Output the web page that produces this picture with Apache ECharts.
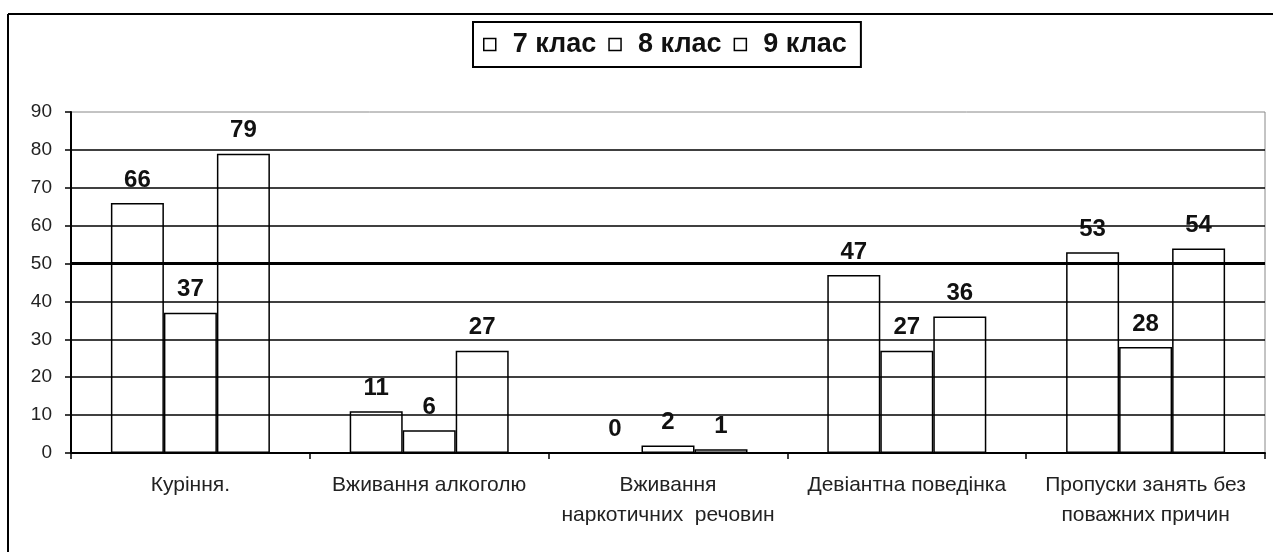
<!DOCTYPE html>
<html>
<head>
<meta charset="utf-8">
<script src="https://cdn.jsdelivr.net/npm/echarts@6/dist/echarts.min.js"></script>
<style>
html,body{margin:0;padding:0;background:#fff;}
#c{width:1273px;height:552px;}
</style>
</head>
<body>
<div id="c"></div>
<script>
const categories = ['Куріння.', 'Вживання алкоголю', 'Вживання\nнаркотичних  речовин', 'Девіантна поведінка', 'Пропуски занять без\nповажних причин'];
const seriesNames = ['7 клас', '8 клас', '9 клас'];
const class7 = [66, 11, 0, 47, 53];
const class8 = [37, 6, 2, 27, 28];
const class9 = [79, 27, 1, 36, 54];
const yTicks = { min: 0, max: 90, interval: 10 };

const FONT = "'Liberation Sans', Arial, sans-serif";
const chart = echarts.init(document.getElementById('c'));

function barSeries(name, data, withMark) {
  const s = {
    name: name,
    type: 'bar',
    data: data,
    barWidth: 53,
    barGap: '0%',
    itemStyle: { color: 'rgba(0,0,0,0)', borderColor: '#000', borderWidth: 1.5 },
    label: {
      show: true, position: 'top', distance: 11,
      fontFamily: FONT, fontWeight: 'bold', fontSize: 24, color: '#111'
    },
    emphasis: { disabled: true }
  };
  if (withMark) {
    s.markLine = {
      silent: true, symbol: 'none', label: { show: false },
      lineStyle: { color: '#000', width: 3, type: 'solid' },
      data: [{ yAxis: 50 }]
    };
  }
  return s;
}

chart.setOption({
  animation: false,
  backgroundColor: '#fff',
  grid: { left: 71, right: 8, top: 112, bottom: 99, show: true, borderColor: '#888', borderWidth: 1 },
  legend: {
    left: 473, top: 22,
    padding: [9, 14, 9, 10],
    itemGap: 12,
    itemWidth: 12, itemHeight: 12,
    borderColor: '#000', borderWidth: 2,
    icon: 'rect',
    itemStyle: { color: '#fff', borderColor: '#000', borderWidth: 1.5 },
    textStyle: { fontFamily: FONT, fontWeight: 'bold', fontSize: 27, color: '#111', padding: [0, 0, 0, 12] },
    data: seriesNames
  },
  xAxis: {
    type: 'category',
    data: categories,
    axisLine: { lineStyle: { color: '#000', width: 2 } },
    axisTick: { show: true, length: 6, lineStyle: { color: '#000', width: 1.5 } },
    axisLabel: { interval: 0, margin: 17, fontFamily: FONT, fontSize: 21, color: '#222', lineHeight: 30 }
  },
  yAxis: {
    type: 'value',
    min: yTicks.min, max: yTicks.max, interval: yTicks.interval,
    axisLine: { show: true, lineStyle: { color: '#000', width: 2 } },
    axisTick: { show: true, length: 6, lineStyle: { color: '#000', width: 1.5 } },
    axisLabel: { margin: 19, fontFamily: FONT, fontSize: 19, color: '#222' },
    splitLine: { show: true, showMaxLine: false, lineStyle: { color: '#000', width: 1.5 } }
  },
  graphic: [
    { type: 'line', shape: { x1: 8, y1: 14, x2: 1273, y2: 14 }, style: { stroke: '#000', lineWidth: 2 } },
    { type: 'line', shape: { x1: 8, y1: 14, x2: 8, y2: 552 }, style: { stroke: '#000', lineWidth: 2 } }
  ],
  series: [
    barSeries(seriesNames[0], class7, true),
    barSeries(seriesNames[1], class8, false),
    barSeries(seriesNames[2], class9, false)
  ]
});
</script>
</body>
</html>
